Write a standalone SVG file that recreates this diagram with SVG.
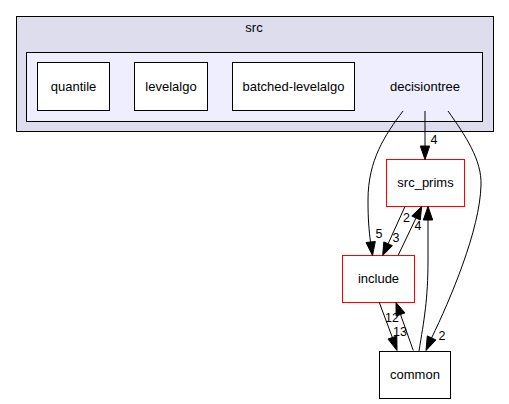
<svg xmlns="http://www.w3.org/2000/svg" width="509" height="404" viewBox="0 0 509 404">
<style>
text{font-family:"Liberation Sans",Arial,Helvetica,sans-serif;font-size:13px;fill:#000;text-anchor:middle}
.lbl{font-size:12.5px}
.box{fill:#fff;stroke:#000;stroke-width:1}
.red{fill:#fff;stroke:#ff0000;stroke-width:1}
.e{fill:none;stroke:#000;stroke-width:1}
.ah{fill:#000;stroke:#000;stroke-width:1}
</style>
<rect width="509" height="404" fill="#fff"/>
<g id="cluster_src">
<rect x="16.5" y="16.5" width="477" height="115" fill="#ddddee" stroke="#000"/>
<text x="254" y="32">src</text>
</g>
<g id="cluster_decisiontree">
<rect x="26.5" y="52.5" width="456" height="69" fill="#eeeeff" stroke="#000"/>
<text x="425" y="90.5">decisiontree</text>
</g>
<g id="quantile">
<rect class="box" x="37.5" y="62.5" width="72" height="48"/>
<text x="73.5" y="90.5">quantile</text>
</g>
<g id="levelalgo">
<rect class="box" x="134.5" y="62.5" width="73" height="48"/>
<text x="171" y="90.5">levelalgo</text>
</g>
<g id="batched-levelalgo">
<rect class="box" x="232.5" y="62.5" width="122" height="48"/>
<text x="293.5" y="90.5">batched-levelalgo</text>
</g>
<g id="src_prims">
<rect class="red" x="386.5" y="159.5" width="78" height="47"/>
<text x="425.5" y="187">src_prims</text>
</g>
<g id="include">
<rect class="red" x="342.5" y="255.5" width="72" height="47"/>
<text x="378.5" y="283">include</text>
</g>
<g id="common">
<rect class="box" x="379.5" y="351.5" width="71" height="47"/>
<text x="415" y="379">common</text>
</g>
<g id="edges">
<path class="e" d="M425,111 L425,146"/>
<polygon class="ah" points="420.3,146 429.7,146 425,159.5"/>
<text class="lbl" x="434" y="143.5">4</text>

<path class="e" d="M403,111 C385,135 368,160 368,200 C368,220 369,230 370.5,242"/>
<polygon class="ah" points="366,242.5 375.3,241.5 372.5,255.5"/>
<text class="lbl" x="379" y="238">5</text>

<path class="e" d="M448,111 C465,135 482,160 481,185 C480,230 450,300 431.6,337.9"/>
<polygon class="ah" points="435.9,339.9 427.3,335.9 426,350.5"/>
<text class="lbl" x="442" y="340">2</text>

<path class="e" d="M405,206.5 L388.1,243.8"/>
<polygon class="ah" points="392.4,245.7 383.8,241.9 382.7,255.5"/>
<text class="lbl" x="396" y="242">3</text>

<path class="e" d="M398.3,255 L416,218"/>
<polygon class="ah" points="420.2,220 411.8,216 421.7,206.5"/>
<text class="lbl" x="406.5" y="222">2</text>
<text class="lbl" x="418" y="229.5">4</text>

<path class="e" d="M419,351 C424,320 428,300 428,260 L428,220"/>
<polygon class="ah" points="423.3,220 432.7,220 428,206.5"/>

<path class="e" d="M379.3,302.5 L392.4,337.5"/>
<polygon class="ah" points="396.8,335.9 388,339.1 397,350.5"/>
<text class="lbl" x="400" y="335.5">13</text>

<path class="e" d="M413.3,350.5 L400.5,314.5"/>
<polygon class="ah" points="404.9,312.9 396.1,316.1 396,302.5"/>
<text class="lbl" x="392" y="322">12</text>
</g>
</svg>
